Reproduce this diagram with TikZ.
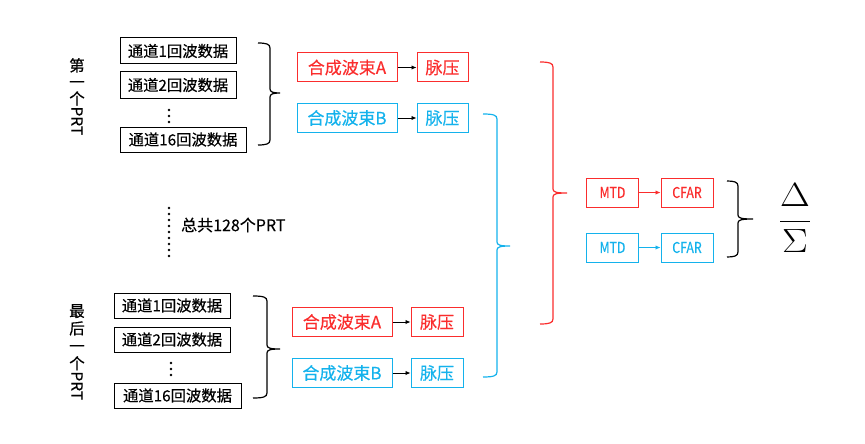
\documentclass[tikz,border=0pt]{standalone}
\usepackage{fontspec}
\setmainfont{Noto Sans CJK SC}[FakeBold=0.4]
\newfontfamily\narrowfont{Noto Sans CJK SC}[FakeStretch=0.82,FakeBold=0.4]
\usetikzlibrary{arrows.meta}
\definecolor{myred}{RGB}{250,45,45}
\definecolor{myblue}{RGB}{20,178,236}
\newcommand\bracepath[7]{% color, xl, xv, xt, yt, ym, yb
  \draw[#1, line width=1.2pt] (#2,#5) .. controls (#3-4,#5) and (#3,#5+1) .. (#3,#5+5)
    -- (#3,#6-4) .. controls (#3,#6-1) and (#3+3,#6) .. (#4,#6)
    .. controls (#3+3,#6) and (#3,#6+1) .. (#3,#6+4)
    -- (#3,#7-5) .. controls (#3,#7-1) and (#3-4,#7) .. (#2,#7);}
\begin{document}
\begin{tikzpicture}[x=1pt,y=-1pt,
  chbox/.style={draw, line width=1pt, inner sep=0pt, minimum height=26,
    font=\fontsize{15.3}{17}\selectfont},
  bfbox/.style={draw, line width=1pt, inner sep=0pt, minimum height=29,
    font=\fontsize{17}{19}\selectfont},
  tdbox/.style={draw, line width=1pt, inner sep=0pt, minimum height=29, minimum width=52,
    font=\narrowfont\fontsize{15}{17}\selectfont},
  arr/.style={-{Latex[length=5pt,width=4.5pt]}, line width=0.9pt},
  vlab/.style={align=center, inner sep=0pt, font=\fontsize{15.5}{16.5}\selectfont},
  dotc/.style={fill=black, inner sep=0pt, minimum size=2.8pt, circle}]
\useasboundingbox (0,0) rectangle (865,444);

% ---- first PRT ----
\node[vlab, anchor=north] (lab1) at (77,58) {第\\一\\个\\\rotatebox[origin=c]{-90}{PRT}};
\node[chbox, minimum width=116] (t1) at (178,51) {通道1回波数据};
\node[chbox, minimum width=116] (t2) at (178,85) {通道2回波数据};
\node[dotc] (td1) at (169,110) {};
\node[dotc] (td2) at (169,116) {};
\node[dotc] (td3) at (169,122) {};
\node[chbox, minimum width=126, minimum height=25] (t16) at (183,139.5) {通道16回波数据};
\bracepath{black}{258}{270}{280}{43}{93}{145}

\node[bfbox, myred, minimum width=100] (tA) at (347,67.5) {合成波束A};
\node[bfbox, myred, minimum width=51] (tpA) at (442.5,67.5) {脉压};
\node[bfbox, myblue, minimum width=100] (tB) at (347,118) {合成波束B};
\node[bfbox, myblue, minimum width=51] (tpB) at (442.5,118) {脉压};
\draw[arr] (tA) -- (tpA);
\draw[arr] (tB) -- (tpB);

% ---- middle ----
\foreach \i/\yy in {1/208,2/214,3/220,4/226,5/232,6/238,7/244,8/250,9/256}
  \node[dotc] (md\i) at (169,\yy) {};
\node[anchor=west, inner sep=0pt, font=\fontsize{16}{18}\selectfont] (total) at (181,225) {总共128个PRT};

% ---- last PRT ----
\node[vlab, anchor=north, font=\fontsize{15.5}{17.5}\selectfont] (lab2) at (77,304) {最\\后\\一\\个\\\rotatebox[origin=c]{-90}{PRT}};
\node[chbox, minimum width=116, minimum height=25] (b1) at (172,305.5) {通道1回波数据};
\node[chbox, minimum width=116, minimum height=25] (b2) at (172,339.5) {通道2回波数据};
\node[dotc] (bd1) at (171,363) {};
\node[dotc] (bd2) at (171,369) {};
\node[dotc] (bd3) at (171,375) {};
\node[chbox, minimum width=127, minimum height=25] (b16) at (177.5,395.5) {通道16回波数据};
\bracepath{black}{253}{267}{280}{296}{349}{398}

\node[bfbox, myred, minimum width=100] (bA) at (342,322) {合成波束A};
\node[bfbox, myred, minimum width=52] (bpA) at (437,322) {脉压};
\node[bfbox, myblue, minimum width=100] (bB) at (342,373) {合成波束B};
\node[bfbox, myblue, minimum width=52] (bpB) at (437,373) {脉压};
\draw[arr] (bA) -- (bpA);
\draw[arr] (bB) -- (bpB);

% ---- combining braces ----
\bracepath{myblue}{483}{497}{510}{114}{246}{377}
\bracepath{myred}{540}{553}{567}{62}{193}{324}

\node[tdbox, myred] (mA) at (612.5,192.5) {MTD};
\node[tdbox, myred] (cA) at (687,192.5) {CFAR};
\node[tdbox, myblue] (mB) at (612.5,247.5) {MTD};
\node[tdbox, myblue] (cB) at (687,247.5) {CFAR};
\draw[arr, myred] (mA) -- (cA);
\draw[arr, myblue] (mB) -- (cB);

\bracepath{black}{727}{738}{753}{181}{219}{257}
\node[inner sep=0pt] (frac) at (795,218) {\scalebox{1.55}[1.35]{\fontsize{24.88}{30}\selectfont$\displaystyle\frac{\Delta}{\Sigma}$}};
\end{tikzpicture}
\end{document}
